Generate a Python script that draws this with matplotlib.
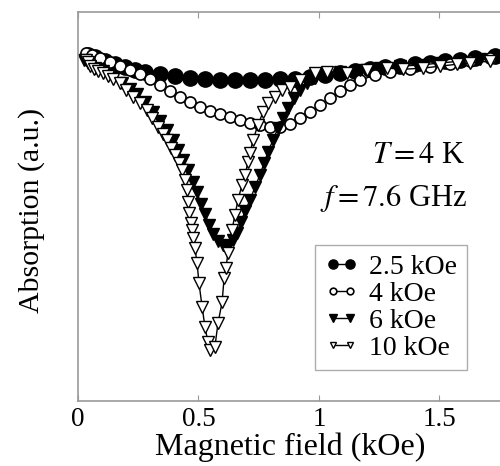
import numpy as np
import matplotlib.pyplot as plt

plt.rcParams['font.family'] = 'Liberation Serif'
plt.rcParams['mathtext.fontset'] = 'stix'

# absorption sweeps, field in kOe, absorption in arbitrary units
field_25 = [0.041, 0.071, 0.112, 0.154, 0.195, 0.237, 0.278, 0.340, 0.402, 0.465,
            0.527, 0.589, 0.651, 0.714, 0.776, 0.838, 0.900, 0.963, 1.025, 1.087,
            1.149, 1.212, 1.274, 1.336, 1.398, 1.461, 1.523, 1.585, 1.647, 1.730]
abs_25 = [0.889, 0.884, 0.874, 0.866, 0.859, 0.851, 0.846, 0.841, 0.835, 0.830,
          0.828, 0.825, 0.825, 0.825, 0.825, 0.828, 0.828, 0.833, 0.838, 0.843,
          0.848, 0.853, 0.859, 0.861, 0.866, 0.869, 0.874, 0.877, 0.882, 0.887]

field_4 = [0.033, 0.058, 0.091, 0.133, 0.174, 0.216, 0.257, 0.299, 0.340, 0.382,
           0.423, 0.465, 0.506, 0.548, 0.589, 0.631, 0.672, 0.714, 0.755, 0.797,
           0.838, 0.880, 0.921, 0.963, 1.004, 1.046, 1.087, 1.129, 1.170, 1.232,
           1.295, 1.378, 1.461, 1.544, 1.627, 1.710]
abs_4 = [0.895, 0.889, 0.882, 0.871, 0.861, 0.851, 0.841, 0.828, 0.812, 0.797,
         0.781, 0.769, 0.756, 0.746, 0.738, 0.730, 0.722, 0.715, 0.710, 0.704,
         0.704, 0.712, 0.728, 0.743, 0.761, 0.779, 0.797, 0.812, 0.825, 0.838,
         0.846, 0.853, 0.859, 0.866, 0.874, 0.882]

field_6 = [0.025, 0.041, 0.071, 0.104, 0.145, 0.183, 0.216, 0.245, 0.278, 0.311,
           0.340, 0.369, 0.394, 0.415, 0.436, 0.456, 0.477, 0.494, 0.510, 0.527,
           0.544, 0.560, 0.581, 0.602, 0.622, 0.643, 0.660, 0.676, 0.693, 0.714,
           0.734, 0.755, 0.772, 0.788, 0.809, 0.830, 0.851, 0.871, 0.896, 0.921,
           0.950, 0.983, 1.025, 1.087, 1.170, 1.253, 1.336, 1.419, 1.502, 1.585,
           1.668, 1.743]
abs_6 = [0.877, 0.869, 0.856, 0.848, 0.833, 0.817, 0.802, 0.789, 0.769, 0.743,
         0.720, 0.697, 0.671, 0.645, 0.620, 0.594, 0.563, 0.537, 0.506, 0.481,
         0.452, 0.429, 0.411, 0.401, 0.398, 0.414, 0.432, 0.460, 0.488, 0.517,
         0.550, 0.581, 0.612, 0.640, 0.671, 0.702, 0.728, 0.753, 0.779, 0.800,
         0.817, 0.830, 0.838, 0.846, 0.851, 0.856, 0.861, 0.864, 0.869, 0.874,
         0.879, 0.884]

field_10 = [0.033, 0.041, 0.050, 0.066, 0.083, 0.104, 0.124, 0.145, 0.174, 0.199,
            0.228, 0.257, 0.286, 0.307, 0.332, 0.353, 0.369, 0.386, 0.402, 0.419,
            0.432, 0.444, 0.452, 0.456, 0.461, 0.469, 0.473, 0.477, 0.485, 0.494,
            0.502, 0.515, 0.527, 0.539, 0.548,
            0.568, 0.581, 0.598, 0.606, 0.614, 0.622, 0.639, 0.651, 0.664, 0.680,
            0.693, 0.705, 0.714, 0.726, 0.747, 0.768, 0.788, 0.817, 0.846, 0.880,
            0.921, 0.983, 1.033, 1.116, 1.199, 1.282, 1.349, 1.432, 1.502, 1.573,
            1.627, 1.710]
abs_10 = [0.877, 0.871, 0.861, 0.853, 0.848, 0.843, 0.835, 0.828, 0.817, 0.800,
          0.781, 0.766, 0.748, 0.728, 0.704, 0.686, 0.671, 0.650, 0.632, 0.612,
          0.594, 0.568, 0.542, 0.512, 0.483, 0.458, 0.440, 0.419, 0.393, 0.355,
          0.303, 0.242, 0.190, 0.152, 0.131,
          0.139, 0.201, 0.254, 0.316, 0.342, 0.380, 0.440, 0.478, 0.517, 0.555,
          0.581, 0.614, 0.638, 0.671, 0.710, 0.743, 0.766, 0.781, 0.800, 0.807,
          0.825, 0.843, 0.846, 0.843, 0.851, 0.856, 0.853, 0.856, 0.861, 0.866,
          0.869, 0.874]

labels = ['2.5 kOe', '4 kOe', '6 kOe', '10 kOe']

fig = plt.figure(figsize=(5.0, 4.66), dpi=100)
# axes runs past the right edge of the figure, so the right spine is cut off
ax = fig.add_axes([0.156, 0.1395, 0.95, 0.8345])

ax.plot(field_25, abs_25, '-o', color='k', lw=1, ms=11, mfc='k', mec='k', label=labels[0])
ax.plot(field_4, abs_4, '-o', color='k', lw=1, ms=8, mfc='white', mec='k', mew=1.2, label=labels[1])
ax.plot(field_6, abs_6, '-v', color='k', lw=1, ms=9, mfc='k', mec='k', label=labels[2])
ax.plot(field_10, abs_10, '-v', color='k', lw=1, ms=8, mfc='white', mec='k', mew=1, label=labels[3])

ax.set_xlim(0, 475 / 241)
ax.set_ylim(0, 1)
ax.set_xticks([0, 0.5, 1, 1.5])
ax.set_xticklabels(['0', '0.5', '1', '1.5'])
ax.set_yticks([])
ax.tick_params(axis='x', direction='in', length=4, width=0.8, color='#999999',
               labelsize=19.5, pad=4, top=True)
for side in ['left', 'bottom', 'top', 'right']:
    ax.spines[side].set_color('#999999')
    ax.spines[side].set_linewidth(1.2)

ax.set_xlabel('Magnetic field (kOe)', fontsize=23)
ax.xaxis.set_label_coords(212 / 475, -0.082)
ax.set_ylabel('Absorption (a.u.)', fontsize=21.5)
ax.yaxis.set_label_coords(-33 / 475, 0.49)

ax.text(1.606, 0.632, r'$T = 4$ K', fontsize=22, ha='right', va='center')
ax.text(1.614, 0.522, r'$f = 7.6$ GHz', fontsize=22, ha='right', va='center')

leg = ax.legend(loc='upper left', bbox_to_anchor=(0.499, 0.401), borderaxespad=0,
                fontsize=20, numpoints=2, handlelength=1.2, handletextpad=0.4,
                labelspacing=0.05, borderpad=0.35, frameon=True, fancybox=False,
                markerscale=0.6)
leg.get_frame().set_edgecolor('#999999')
leg.get_frame().set_linewidth(1.0)

fig.savefig('out.png', dpi=100)
